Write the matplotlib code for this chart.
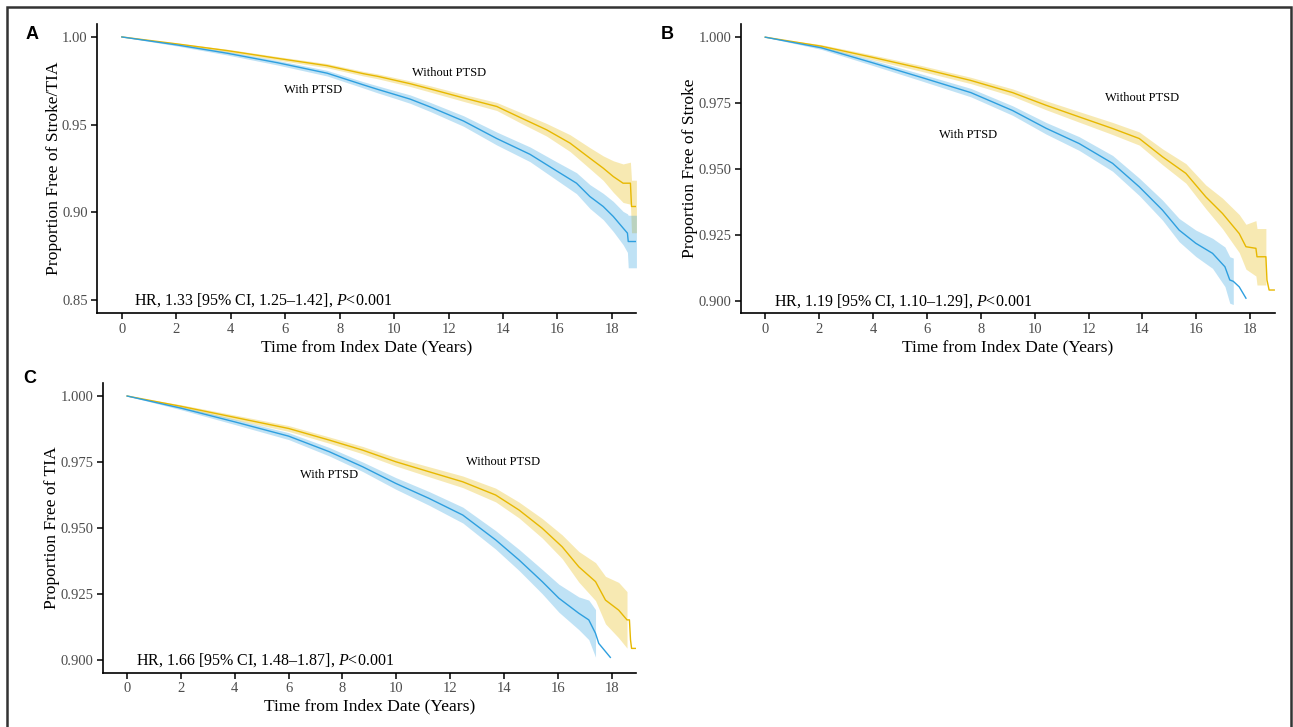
import numpy as np
import matplotlib
matplotlib.use("Agg")
import matplotlib.pyplot as plt
from matplotlib.patches import Rectangle

plt.rcParams["font.family"] = ["Liberation Serif", "DejaVu Serif"]
plt.rcParams["mathtext.fontset"] = "custom"
plt.rcParams["mathtext.rm"] = "Liberation Serif"
plt.rcParams["mathtext.it"] = "Liberation Serif:italic"

YELLOW = "#E7B800"
BLUE = "#2E9FDF"
nan = np.nan

# ---- Panel A: Stroke/TIA ----
a_t_without = [0, 2.04, 3.87, 5.71, 7.54, 8.88, 9.4, 10.59, 11.33, 12.55, 13.77, 14.63,
               15.6, 16.46, 17.19, 17.68, 18.05, 18.41, 18.68, 18.72, 18.9]
a_s_without = [1.0, 0.996, 0.9922, 0.9878, 0.9836, 0.979, 0.9775, 0.9733, 0.9703,
               0.9652, 0.9603, 0.954, 0.947, 0.9394, 0.9308, 0.9251, 0.9203, 0.9165,
               0.9165, 0.9032, 0.9032]
a_ci_without = [0, 0.0005, 0.0008, 0.001, 0.0012, 0.0013, 0.0014, 0.0016, 0.0018,
                0.002, 0.0023, 0.003, 0.0036, 0.0048, 0.006, 0.007, 0.009, 0.011,
                0.012, 0.015, 0.015]
a_t_with = [0, 2.04, 3.87, 5.71, 7.54, 8.88, 9.37, 10.1, 10.59, 11.33, 12.55, 13.77,
            14.99, 15.97, 16.7, 17.19, 17.68, 18.05, 18.41, 18.57, 18.6, 18.9]
a_s_with = [1.0, 0.9954, 0.9907, 0.9853, 0.9793, 0.9726, 0.9702, 0.9668, 0.9645,
            0.96, 0.952, 0.942, 0.933, 0.9235, 0.9165, 0.9089, 0.9032, 0.8975, 0.8909,
            0.888, 0.8832, 0.8832]
a_ci_with = [0, 0.0006, 0.001, 0.0013, 0.0016, 0.0018, 0.002, 0.0022, 0.0024, 0.0026,
             0.003, 0.0037, 0.0042, 0.0052, 0.006, 0.0068, 0.0075, 0.0086, 0.0095,
             0.011, 0.015, 0.015]

# ---- Panel B: Stroke ----
b_t_without = [0, 2.07, 3.92, 5.78, 7.63, 9.18, 10.42, 11.65, 12.89, 13.88, 14.74,
               15.61, 16.35, 16.97, 17.59, 17.84, 18.21, 18.25, 18.58, 18.62, 18.7,
               18.89]
b_s_without = [1.0, 0.9966, 0.9925, 0.9882, 0.9836, 0.979, 0.9742, 0.9698, 0.9654,
               0.9616, 0.9547, 0.9484, 0.9395, 0.9332, 0.9256, 0.9206, 0.92, 0.9168,
               0.9168, 0.908, 0.9042, 0.9042]
b_ci_without = [0, 0.0006, 0.0009, 0.0011, 0.0012, 0.0014, 0.0017, 0.002, 0.0023,
                0.0025, 0.003, 0.0037, 0.0045, 0.0058, 0.0072, 0.0085, 0.0105, 0.0107,
                0.0107, nan, nan, nan]
b_t_with = [0, 2.07, 3.92, 5.78, 7.63, 9.18, 10.42, 11.65, 12.89, 13.88, 14.74, 15.36,
            15.98, 16.6, 17.06, 17.24, 17.37, 17.59, 17.84]
b_s_with = [1.0, 0.996, 0.9905, 0.9848, 0.979, 0.9722, 0.9655, 0.9597, 0.9522,
            0.9433, 0.9345, 0.9269, 0.9219, 0.9181, 0.913, 0.908, 0.9075, 0.9054,
            0.9011]
b_ci_with = [0, 0.0006, 0.001, 0.0013, 0.0016, 0.0018, 0.0022, 0.0026, 0.003, 0.0033,
             0.0038, 0.0044, 0.005, 0.0057, 0.0075, 0.0088, 0.0088, nan, nan]

# ---- Panel C: TIA ----
c_t_without = [0, 2, 4, 6, 7.51, 8.75, 9.98, 11.22, 12.47, 13.69, 14.56, 15.42, 16.16,
               16.78, 17.4, 17.77, 18.26, 18.57, 18.66, 18.7, 18.74, 18.9]
c_s_without = [1.0, 0.9961, 0.9919, 0.9877, 0.9833, 0.9795, 0.9751, 0.9713, 0.9675,
               0.9625, 0.9568, 0.9499, 0.9429, 0.9353, 0.9297, 0.9227, 0.9189, 0.9152,
               0.9152, 0.9076, 0.9044, 0.9044]
c_ci_without = [0, 0.0006, 0.0009, 0.0011, 0.0012, 0.0014, 0.0016, 0.0019, 0.0022,
                0.0026, 0.003, 0.0037, 0.0045, 0.0058, 0.0072, 0.009, 0.0105, 0.0107,
                nan, nan, nan, nan]
c_t_with = [0, 2, 4, 6, 7.51, 8.75, 9.98, 11.22, 12.47, 13.69, 14.56, 15.42, 16.04,
            16.78, 17.15, 17.4, 17.52, 17.95]
c_s_with = [1.0, 0.9954, 0.9902, 0.9848, 0.9789, 0.9732, 0.9669, 0.9612, 0.9549,
            0.9455, 0.9379, 0.9297, 0.9234, 0.9177, 0.9152, 0.9101, 0.9063, 0.901]
c_ci_with = [0, 0.0006, 0.001, 0.0013, 0.0016, 0.0018, 0.0022, 0.0026, 0.003, 0.0035,
             0.004, 0.0046, 0.0053, 0.0062, 0.0075, 0.009, nan, nan]

# Axis ticks
a_yticks = [0.85, 0.90, 0.95, 1.00]
bc_yticks = [0.900, 0.925, 0.950, 0.975, 1.000]
x_ticks = [0, 2, 4, 6, 8, 10, 12, 14, 16, 18]


def draw_curve(ax, t, s, ci, color):
    t = np.array(t)
    s = np.array(s)
    ci = np.array(ci)
    ax.fill_between(t, s - ci, s + ci, color=color, alpha=0.3, lw=0)
    ax.plot(t, s, color=color, lw=1.0)


def draw_panel(ax, without, with_, ylim, yticks, fmt, ylabel, hr, hr_xy,
               lab_without, lab_with, ylab_x):
    draw_curve(ax, *without, YELLOW)
    draw_curve(ax, *with_, BLUE)
    ax.set_xlim(-0.9, 18.9)
    ax.set_ylim(*ylim)
    ax.set_xticks(x_ticks)
    ax.set_yticks(yticks)
    ax.set_yticklabels([fmt.format(v) for v in yticks])
    ax.spines["top"].set_visible(False)
    ax.spines["right"].set_visible(False)
    ax.spines["left"].set_linewidth(1.2)
    ax.spines["bottom"].set_linewidth(1.2)
    ax.tick_params(length=4, width=1.1, labelsize=10.5, labelcolor="#4D4D4D", pad=3)
    ax.set_xlabel("Time from Index Date (Years)", fontsize=12.6)
    ax.set_ylabel(ylabel, fontsize=12.6)
    ax.xaxis.set_label_coords(0.5, -0.09)
    ax.yaxis.set_label_coords(ylab_x, 0.5)
    ax.text(hr_xy[0], hr_xy[1], hr, fontsize=11.5, ha="left", va="center")
    ax.text(*lab_without, "Without PTSD", fontsize=9, ha="center", va="center")
    ax.text(*lab_with, "With PTSD", fontsize=9, ha="center", va="center")


fig = plt.figure(figsize=(12.93, 7.27), dpi=100)
axA = fig.add_axes([0.0753, 0.5695, 0.4169, 0.3975])
axB = fig.add_axes([0.5731, 0.5695, 0.4126, 0.3975])
axC = fig.add_axes([0.0796, 0.0747, 0.4122, 0.398])

draw_panel(axA, (a_t_without, a_s_without, a_ci_without),
           (a_t_with, a_s_with, a_ci_with),
           (0.8424, 1.0074), a_yticks, "{:.2f}", "Proportion Free of Stroke/TIA",
           "HR, 1.33 [95% CI, 1.25–1.42], $P$<0.001", (0.43, 0.85),
           (12.03, 0.9797), (7.04, 0.9698), -0.066)
draw_panel(axB, (b_t_without, b_s_without, b_ci_without),
           (b_t_with, b_s_with, b_ci_with),
           (0.8955, 1.005), bc_yticks, "{:.3f}", "Proportion Free of Stroke",
           "HR, 1.19 [95% CI, 1.10–1.29], $P$<0.001", (0.34, 0.900),
           (13.97, 0.9769), (7.51, 0.963), -0.080)
draw_panel(axC, (c_t_without, c_s_without, c_ci_without),
           (c_t_with, c_s_with, c_ci_with),
           (0.8952, 1.0048), bc_yticks, "{:.3f}", "Proportion Free of TIA",
           "HR, 1.66 [95% CI, 1.48–1.87], $P$<0.001", (0.32, 0.900),
           (13.96, 0.9751), (7.51, 0.9701), -0.081)

# panel letters
for x, y, letter in [(32, 34.5, "A"), (667, 34.5, "B"), (30, 378.5, "C")]:
    fig.text(x / 1293, 1 - y / 727, letter, fontsize=13, fontweight="bold",
             family="Liberation Sans", ha="center", va="center")

# outer frame (bottom edge runs off the image)
fig.patches.append(Rectangle((7 / 1293, -0.05), (1291 - 7) / 1293, 1.05 - 7 / 727,
                             transform=fig.transFigure, fill=False,
                             edgecolor="#333333", lw=1.8))

fig.savefig("out.png", dpi=100)
